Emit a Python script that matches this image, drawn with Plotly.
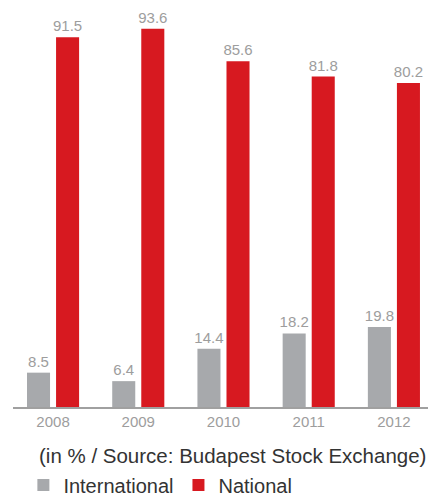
import plotly.graph_objects as go

# Share of turnover on the Budapest Stock Exchange, in %
years = ["2008", "2009", "2010", "2011", "2012"]
international = [8.5, 6.4, 14.4, 18.2, 19.8]
national = [91.5, 93.6, 85.6, 81.8, 80.2]

GRAY = "#A7A9AC"
RED = "#D71920"
LABEL = "#9D9D9D"
FONT = "Liberation Sans"

fig = go.Figure()
fig.add_trace(go.Bar(
    x=years, y=international, name="International",
    marker=dict(color=GRAY, line=dict(width=0)),
    text=[f"{v:.1f}" for v in international], textposition="outside",
    textfont=dict(color=LABEL, size=15, family=FONT),
    constraintext="none", cliponaxis=False,
))
fig.add_trace(go.Bar(
    x=years, y=national, name="National",
    marker=dict(color=RED, line=dict(width=0)),
    text=[f"{v:.1f}" for v in national], textposition="outside",
    textfont=dict(color=LABEL, size=15, family=FONT),
    constraintext="none", cliponaxis=False,
))

fig.update_layout(
    width=428, height=497,
    margin=dict(l=13, r=0, t=3, b=90, autoexpand=False),
    paper_bgcolor="white", plot_bgcolor="white",
    barmode="group", bargap=0.318, bargroupgap=0.207,
    font=dict(family=FONT, color="#333333"),
    xaxis=dict(
        type="category", range=[-0.47, 4.4],
        showline=True, linecolor="#A0A0A0", linewidth=1.5,
        showgrid=False, zeroline=False, ticks="",
        tickfont=dict(size=15, color=LABEL, family=FONT),
        automargin=False,
    ),
    yaxis=dict(range=[0, 100], visible=False, showgrid=False, zeroline=False),
    showlegend=True,
    legend=dict(
        orientation="h", x=0.025, xanchor="left",
        yref="container", y=0.024, yanchor="middle",
        font=dict(size=20, color="#333333", family=FONT),
        itemsizing="constant", traceorder="normal",
        bgcolor="rgba(0,0,0,0)",
    ),
    annotations=[dict(
        text="(in % / Source: Budapest Stock Exchange)",
        xref="paper", yref="paper", x=0.058, y=-0.119,
        xanchor="left", yanchor="middle", showarrow=False,
        font=dict(size=20.5, color="#333333", family=FONT),
    )],
)

fig.write_html("out.html")
